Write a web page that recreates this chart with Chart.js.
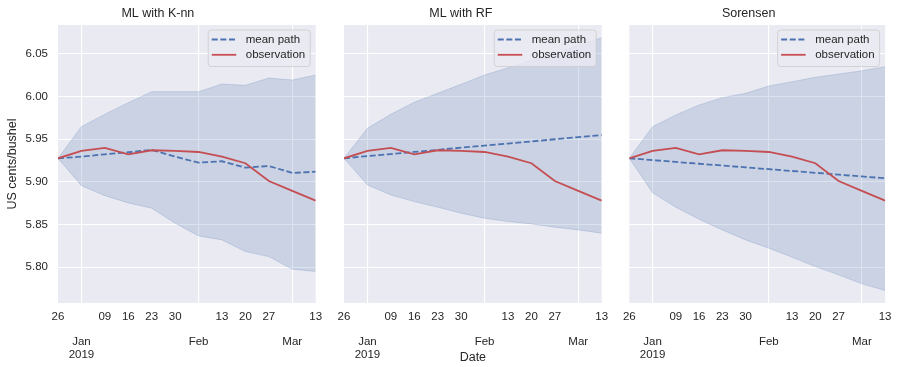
<!DOCTYPE html>
<html>
<head>
<meta charset="utf-8">
<script src="https://cdn.jsdelivr.net/npm/chart.js@4"></script>
<style>
  body { margin: 0; background: #fff; }
  #wrap { position: relative; width: 899px; height: 367px; }
  canvas { position: absolute; top: 0; }
</style>
</head>
<body>
<div id="wrap">
  <canvas id="c1" width="330" height="367" style="left:0px"></canvas>
  <canvas id="c2" width="300" height="367" style="left:320px"></canvas>
  <canvas id="c3" width="289" height="367" style="left:610px"></canvas>
</div>
<script>
// weekly dates
const dates = ["2018-12-26", "2019-01-02", "2019-01-09", "2019-01-16", "2019-01-23", "2019-01-30",
  "2019-02-06", "2019-02-13", "2019-02-20", "2019-02-27", "2019-03-06", "2019-03-13"];
const dayTicks = ["26", "", "09", "16", "23", "30", "", "13", "20", "27", "", "13"];
const monthTicks = ["", "Jan 2019", "", "", "", "", "Feb", "", "", "", "Mar", ""];
const yTicks = [5.80, 5.85, 5.90, 5.95, 6.00, 6.05];

const observation = [5.9277, 5.9363, 5.9398, 5.9324, 5.9371, 5.9363, 5.9351, 5.9296, 5.9219, 5.9011, 5.8894, 5.8780];

const knnMean  = [5.9277, 5.9296, 5.9324, 5.9348, 5.9375, 5.9296, 5.9226, 5.9242, 5.9167, 5.9187, 5.9105, 5.9120];
const knnUpper = [5.9277, 5.9648, 5.9793, 5.9929, 6.0058, 6.0058, 6.0058, 6.0148, 6.0133, 6.0218, 6.0195, 6.0253];
const knnLower = [5.9277, 5.8956, 5.8839, 5.8754, 5.8691, 5.8516, 5.8367, 5.8320, 5.8183, 5.8124, 5.7977, 5.7949];

const rfMean  = [5.9277, 5.9302, 5.9327, 5.9351, 5.9376, 5.9401, 5.9426, 5.9450, 5.9475, 5.9500, 5.9525, 5.9550];
const rfUpper = [5.9277, 5.9629, 5.9793, 5.9934, 6.0039, 6.0145, 6.0253, 6.0338, 6.0429, 6.0508, 6.0605, 6.0690];
const rfLower = [5.9277, 5.8965, 5.8847, 5.8769, 5.8703, 5.8633, 5.8574, 5.8535, 5.8507, 5.8469, 5.8437, 5.8398];

const sorMean  = [5.9277, 5.9256, 5.9234, 5.9213, 5.9192, 5.9171, 5.9149, 5.9128, 5.9107, 5.9085, 5.9064, 5.9043];
const sorUpper = [5.9277, 5.9648, 5.9785, 5.9902, 5.9988, 6.0039, 6.0125, 6.0175, 6.0227, 6.0265, 6.0304, 6.0351];
const sorLower = [5.9277, 5.8874, 5.8703, 5.8562, 5.8437, 5.8320, 5.8223, 5.8117, 5.8007, 5.7910, 5.7805, 5.7727];

const DAY = 86400000;
const days = dates.map(d => (Date.parse(d) - Date.parse(dates[0])) / DAY);

Chart.defaults.font.family = "'Liberation Sans', Arial, sans-serif";
Chart.defaults.color = "#262626";

const txt = "#262626";
const blue = "#4C72B0";
const red = "#C44E52";
const band = "rgba(76,114,176,0.2)";

// grey plot background
const plotBg = {
  id: "plotBg",
  beforeDraw(chart) {
    const a = chart.chartArea, ctx = chart.ctx;
    ctx.save();
    ctx.fillStyle = "#EAEAF2";
    ctx.fillRect(a.left, a.top, a.right - a.left, a.bottom - a.top);
    ctx.restore();
  }
};

// legend box in upper right corner
const boxLegend = {
  id: "boxLegend",
  afterDatasetsDraw(chart) {
    const ctx = chart.ctx, a = chart.chartArea;
    const items = chart.data.datasets.filter(d => d.inLegend);
    ctx.save();
    ctx.font = "11.5px 'Liberation Sans', Arial, sans-serif";
    let tw = 0;
    items.forEach(d => { tw = Math.max(tw, ctx.measureText(d.label).width); });
    const w = 3.5 + 24.5 + 9.5 + tw + 5;
    const h = 36.5;
    const x = a.right - 5.5 - w, y = a.top + 5;
    ctx.beginPath();
    ctx.roundRect(x, y, w, h, 3);
    ctx.fillStyle = "rgba(234,234,242,0.8)";
    ctx.fill();
    ctx.strokeStyle = "rgba(204,204,204,0.8)";
    ctx.lineWidth = 1;
    ctx.stroke();
    items.forEach((d, i) => {
      const yy = y + 9.5 + i * 15.3;
      ctx.beginPath();
      ctx.setLineDash(d.borderDash || []);
      ctx.strokeStyle = d.borderColor;
      ctx.lineWidth = d.borderWidth;
      ctx.moveTo(x + 3.5, yy);
      ctx.lineTo(x + 28, yy);
      ctx.stroke();
      ctx.setLineDash([]);
      ctx.fillStyle = txt;
      ctx.textBaseline = "middle";
      ctx.textAlign = "left";
      ctx.fillText(d.label, x + 37.5, yy);
    });
    ctx.restore();
  }
};

function pts(arr) {
  return arr.map((v, i) => ({ x: days[i], y: v }));
}

function tickLabel(i) {
  const m = monthTicks[i];
  if (!m) return dayTicks[i];
  return [dayTicks[i], ""].concat(m.split(" "));
}

function makePanel(id, title, mean, upper, lower, o) {
  return new Chart(document.getElementById(id), {
    type: "line",
    data: {
      datasets: [
        { label: "mean path", data: pts(mean), borderColor: blue, borderWidth: 1.8,
          borderDash: [6, 2.6], pointRadius: 0, order: 1, inLegend: true, tension: 0 },
        { label: "observation", data: pts(observation), borderColor: red, borderWidth: 1.8,
          pointRadius: 0, order: 0, inLegend: true, tension: 0 },
        { label: "upper", data: pts(upper), borderColor: band, backgroundColor: band,
          borderWidth: 1, pointRadius: 0, fill: "+1", order: 2 },
        { label: "lower", data: pts(lower), borderColor: band, borderWidth: 1,
          pointRadius: 0, fill: false, order: 3 }
      ]
    },
    options: {
      responsive: false,
      animation: false,
      layout: { padding: { left: 0, right: o.padRight, top: 0, bottom: 0 } },
      plugins: {
        legend: { display: false },
        tooltip: { enabled: false },
        title: {
          display: true, text: title, color: txt,
          font: { size: 12.5, weight: "normal" },
          padding: { top: 6, bottom: 4 }
        }
      },
      scales: {
        x: {
          type: "linear",
          min: days[0], max: days[days.length - 1],
          afterBuildTicks: s => { s.ticks = days.map(v => ({ value: v })); },
          afterFit: s => { s.height = 64; },
          ticks: {
            autoSkip: false, maxRotation: 0, minRotation: 0, padding: 7.5, color: txt,
            font: { size: 11.5, lineHeight: 1.1 },
            callback: (v, i) => tickLabel(i)
          },
          grid: {
            drawTicks: false, lineWidth: 1.1,
            color: c => (monthTicks[c.index] ? "#ffffff" : "rgba(0,0,0,0)")
          },
          border: { display: false },
          title: {
            display: o.xTitle, text: "Date", color: txt,
            font: { size: 12.5 }, padding: { top: 0, bottom: 2 }
          }
        },
        y: {
          min: 5.758, max: 6.084,
          afterBuildTicks: s => { s.ticks = yTicks.map(v => ({ value: v })); },
          afterFit: s => { s.width = o.yWidth; },
          ticks: {
            display: o.yLabels, padding: 10, color: txt,
            font: { size: 11.5 },
            callback: v => v.toFixed(2)
          },
          grid: { color: "#ffffff", lineWidth: 1.1, drawTicks: false },
          border: { display: false },
          title: {
            display: o.yLabels, text: "US cents/bushel", color: txt,
            font: { size: 12.5 }, padding: { top: 5.5, bottom: 0 }
          }
        }
      }
    },
    plugins: [plotBg, boxLegend]
  });
}

makePanel("c1", "ML with K-nn", knnMean, knnUpper, knnLower,
  { yWidth: 58, padRight: 14.3, yLabels: true, xTitle: false });
makePanel("c2", "ML with RF", rfMean, rfUpper, rfLower,
  { yWidth: 24, padRight: 18.3, yLabels: false, xTitle: true });
makePanel("c3", "Sorensen", sorMean, sorUpper, sorLower,
  { yWidth: 19.3, padRight: 11.7, yLabels: false, xTitle: false });
</script>
</body>
</html>
